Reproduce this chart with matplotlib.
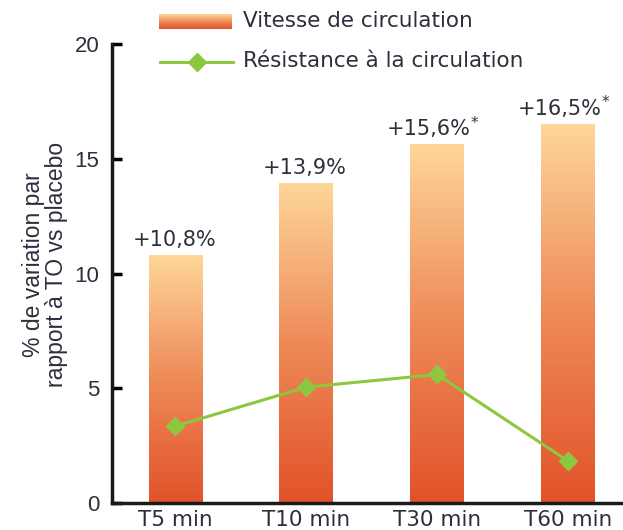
import matplotlib.pyplot as plt
import numpy as np
from matplotlib.colors import LinearSegmentedColormap
from matplotlib.lines import Line2D

categories = ['T5 min', 'T10 min', 'T30 min', 'T60 min']
vitesse = [10.8, 13.9, 15.6, 16.5]
vitesse_labels = ['+10,8%', '+13,9%', '+15,6%', '+16,5%']
significant = [False, False, True, True]
resistance = [3.35, 5.05, 5.6, 1.83]
yticks = [0, 5, 10, 15, 20]

txt = '#2e2e3c'
green = '#8dc63f'
grad = LinearSegmentedColormap.from_list('grad', ['#e2522a', '#ee8a58', '#fed699'])

fig = plt.figure(figsize=(6.23, 5.30), dpi=100)
ax = fig.add_axes([112/623, 1-503/530, 1-112/623, (503-44)/530])

x = np.arange(len(categories))
w = 0.41
gy = np.linspace(0, 1, 256).reshape(-1, 1)
for xi, v in zip(x, vitesse):
    ax.imshow(gy, cmap=grad, origin='lower', aspect='auto',
              extent=[xi - w/2, xi + w/2, 0, v], zorder=1)

ax.plot(x, resistance, color=green, lw=2.2, marker='D', ms=9, zorder=3)

for xi, v, lab, sig in zip(x, vitesse, vitesse_labels, significant):
    dx = -6 if sig else -1
    ax.annotate(lab, (xi, v), xytext=(dx, 4), textcoords='offset points',
                ha='center', va='bottom', fontsize=15, color=txt)
    if sig:
        ax.annotate('*', (xi, v), xytext=(dx + 30, 10), textcoords='offset points',
                    ha='left', va='bottom', fontsize=11, color=txt)

ax.set_xlim(-0.485, 3.42)
ax.set_ylim(0, 20)
ax.set_yticks(yticks)
ax.set_yticklabels([str(t) for t in yticks], fontsize=16, color=txt,
                   family='Liberation Sans')
ax.set_xticks(x)
ax.set_xticklabels(categories, fontsize=15.5, color=txt)
ax.tick_params(axis='y', direction='in', length=7, width=2.5, pad=9)
ax.tick_params(axis='x', length=0, pad=5)
for s in ['top', 'right']:
    ax.spines[s].set_visible(False)
for s in ['left', 'bottom']:
    ax.spines[s].set_linewidth(2.5)
    ax.spines[s].set_color('#1a1a1a')
    ax.spines[s].set_zorder(5)

ax.set_ylabel('% de variation par\nrapport à TO vs placebo', fontsize=16.5,
              color=txt, family='Liberation Sans', linespacing=0.95)
ax.yaxis.set_label_coords(-0.087, 0.52)

# legend
lax = fig.add_axes([159/623, 1-29/530, (232-159)/623, 15/530])
lax.imshow(gy, cmap=grad, origin='lower', aspect='auto', extent=[0, 1, 0, 1])
lax.axis('off')
fig.text(243/623, 1-21/530, 'Vitesse de circulation', fontsize=15.5,
         color=txt, va='center', ha='left')
fig.add_artist(Line2D([160/623, 233/623], [1-62/530, 1-62/530], color=green, lw=2.2))
fig.add_artist(Line2D([197/623], [1-62/530], color=green, marker='D', ms=9))
fig.text(243/623, 1-61/530, 'Résistance à la circulation', fontsize=15.5,
         color=txt, va='center', ha='left')

fig.savefig('out.png', dpi=100)
